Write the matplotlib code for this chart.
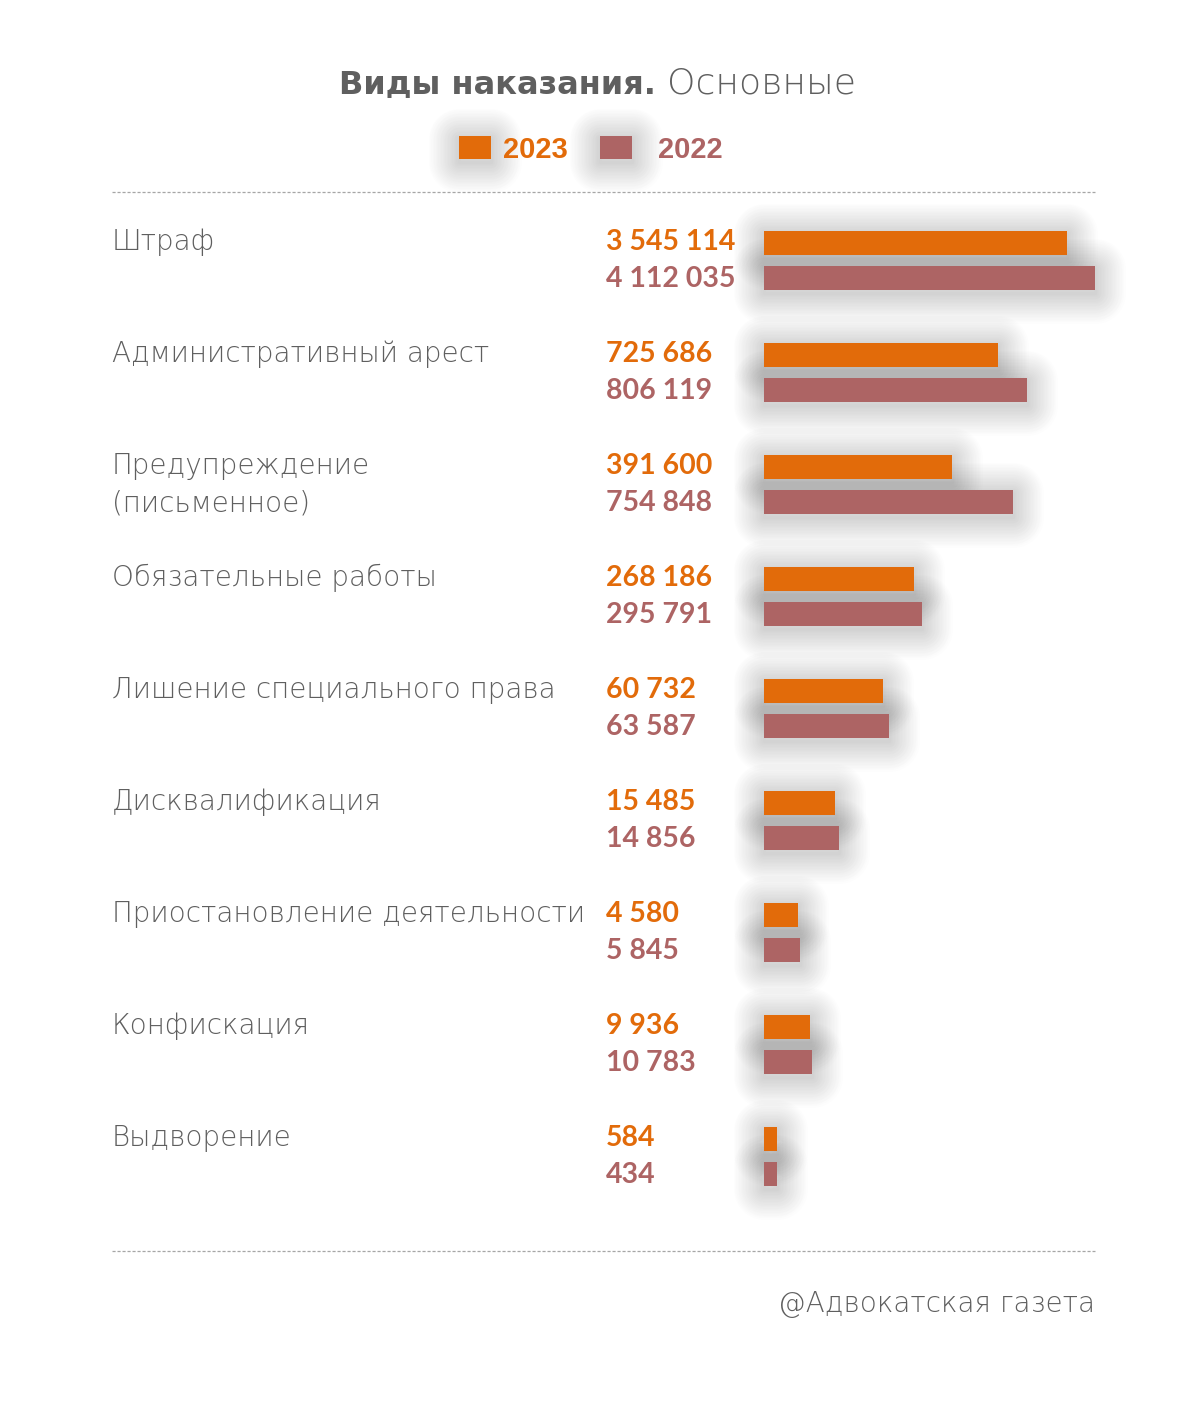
import matplotlib
matplotlib.use("Agg")
import matplotlib.pyplot as plt
import matplotlib.transforms as mtransforms
from matplotlib.lines import Line2D
from matplotlib.patches import Rectangle
import numpy as np

# ---------------- data ----------------
categories = [
    "Штраф",
    "Административный арест",
    "Предупреждение\n(письменное)",
    "Обязательные работы",
    "Лишение специального права",
    "Дисквалификация",
    "Приостановление деятельности",
    "Конфискация",
    "Выдворение",
]
values_2023 = [3545114, 725686, 391600, 268186, 60732, 15485, 4580, 9936, 584]
values_2022 = [4112035, 806119, 754848, 295791, 63587, 14856, 5845, 10783, 434]
# displayed bar lengths (the original uses a non-proportional visual scale)
bar_2023 = [303, 234, 188, 150, 119, 71, 34, 46, 13]
bar_2022 = [331, 263, 249, 158, 125, 75, 36, 48, 12.5]
series_labels = ["2023", "2022"]

C23 = "#E26B0A"
C22 = "#AD6464"
GRAY = "#5f5f5f"

W, H = 1200, 1407
fig = plt.figure(figsize=(W / 100, H / 100), dpi=100)
fig.patch.set_facecolor("white")

ROW = 112.0            # px per category
pair_center0 = 260.5   # px of first pair center
x0, xw = 764, 331
top_px = pair_center0 - 0.5 * ROW
bot_px = pair_center0 + (len(categories) - 0.5) * ROW
ax = fig.add_axes([x0 / W, 1 - bot_px / H, xw / W, (bot_px - top_px) / H])
ax.set_xlim(0, xw)
ax.set_ylim(len(categories) - 0.5, -0.5)
ax.axis("off")

px = 1.0 / ROW   # one pixel in y data units
off = 17.5 * px
bh = 24 * px
y = np.arange(len(categories))

NL = 22
SA = 0.0065
SW = 2.0
def shadow(yy, lengths):
    for k in range(1, NL + 1):
        ax.barh(yy + 3 * px, lengths, height=bh, facecolor="none",
                edgecolor=(0, 0, 0, SA), linewidth=SW * k,
                joinstyle="round", clip_on=False, zorder=1)

shadow(y - off, bar_2023)
shadow(y + off, bar_2022)
ax.barh(y - off, bar_2023, height=bh, color=C23, zorder=3)
ax.barh(y + off, bar_2022, height=bh, color=C22, zorder=3)

tr = mtransforms.blended_transform_factory(fig.transFigure, ax.transData)

def fmt(v):
    return f"{v:,}".replace(",", " ")

for i, cat in enumerate(categories):
    for j, line in enumerate(cat.split("\n")):
        fig.text(112 / W, i - off + (7 + 37 * j) * px, line, transform=tr,
                 ha="left", va="baseline", fontsize=20.0, color=GRAY,
                 family="DejaVu Sans", fontweight="light")
    fig.text(606 / W, i - off + 6.5 * px, fmt(values_2023[i]), transform=tr,
             ha="left", va="baseline", fontsize=20.5, color=C23,
             family="Lato", fontweight="bold")
    fig.text(606 / W, i + off + 9 * px, fmt(values_2022[i]), transform=tr,
             ha="left", va="baseline", fontsize=20.5, color=C22,
             family="Lato", fontweight="bold")

# title
fig.text(656 / W, 1 - 93 / H, "Виды наказания.", ha="right", va="baseline",
         fontsize=23, fontweight="bold", color=GRAY, family="DejaVu Sans")
fig.text(667 / W, 1 - 93 / H, "Основные", ha="left", va="baseline",
         fontsize=26, color=GRAY, family="DejaVu Sans", fontweight="light")

# legend (manual)
leg_items = [(459, 503, C23), (600, 658, C22)]
for (sx, tx, col), lab in zip(leg_items, series_labels):
    for k in range(1, NL + 1):
        fig.add_artist(Rectangle((sx / W, 1 - 162 / H), 32 / W, 23 / H,
                                 transform=fig.transFigure, facecolor="none",
                                 edgecolor=(0, 0, 0, SA), linewidth=SW * k,
                                 joinstyle="round"))
    fig.add_artist(Rectangle((sx / W, 1 - 159 / H), 32 / W, 23 / H,
                             transform=fig.transFigure, facecolor=col,
                             edgecolor="none"))
    fig.text(tx / W, 1 - 158 / H, lab, ha="left", va="baseline",
             fontsize=21, fontweight="bold", color=col, family="Liberation Sans")

# dashed separators
for yy in (192, 1251):
    fig.add_artist(Line2D([112 / W, 1095 / W], [1 - yy / H, 1 - yy / H],
                          transform=fig.transFigure, color="#a6a6a6",
                          lw=0.9, linestyle=(0, (2.5, 1.5))))

# footer
fig.text(1095 / W, 1 - 1312 / H, "@Адвокатская газета", ha="right",
         va="baseline", fontsize=20, color=GRAY, family="DejaVu Sans",
         fontweight="light")

fig.savefig("out.png", dpi=100, facecolor="white")
